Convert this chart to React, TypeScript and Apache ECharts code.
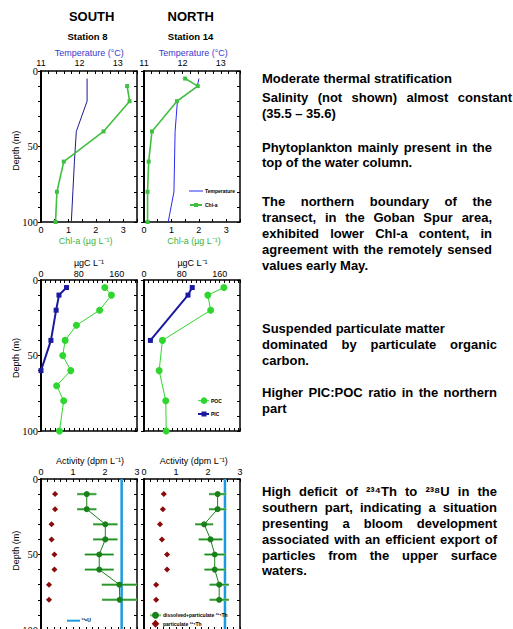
import React, { useEffect, useRef } from 'react';
import * as echarts from 'echarts';

// ---------- DATA ----------
// Top panels: temperature (°C) and Chl-a (µg/L) vs depth (m)
const tempDepthS = [5, 20, 40, 60, 80, 100];
const tempS = [12.2, 12.2, 11.92, 11.87, 11.83, 11.79];
const chlDepthS = [10, 20, 40, 60, 80, 100];
const chlS = [3.14, 3.23, 2.28, 0.83, 0.58, 0.53];
const tempDepthN = [5, 10, 20, 40, 80, 100];
const tempN = [12.43, 12.39, 11.87, 11.81, 11.78, 11.63];
const chlDepthN = [5, 10, 20, 40, 60, 80, 100];
const chlN = [1.5, 1.96, 1.2, 0.29, 0.17, 0.13, 0.13];

// Middle panels: PIC / POC (µgC/L)
const picDepthS = [5, 10, 20, 40, 60];
const picS = [54, 38, 32, 21, 0];
const pocDepthS = [5, 10, 20, 30, 40, 50, 60, 70, 80, 100];
const pocS = [135, 149, 124, 75, 51, 46, 63, 33, 48, 39];
const picDepthN = [5, 10, 40];
const picN = [102, 93, 13.5];
const pocDepthN = [5, 10, 20, 40, 60, 80, 100];
const pocN = [169, 135, 141, 39, 32, 46, 47];

// Bottom panels: Th activity (dpm/L)
const thDepth = [10, 20, 30, 40, 50, 60, 70, 80];
const thTotS = [1.43, 1.43, 2.01, 2.01, 1.82, 1.82, 2.45, 2.46];
const thTotErrS = [0.3, 0.3, 0.38, 0.38, 0.45, 0.45, 0.55, 0.55];
const thPartS = [0.44, 0.44, 0.33, 0.33, 0.42, 0.42, 0.25, 0.25];
const thTotN = [2.3, 2.3, 1.88, 2.08, 2.21, 2.21, 2.35, 2.35];
const thTotErrN = [0.27, 0.27, 0.28, 0.37, 0.32, 0.32, 0.3, 0.3];
const thPartN = [0.62, 0.59, 0.5, 0.56, 0.72, 0.72, 0.38, 0.38];
const thPartErr = [0.07, 0.07, 0.07, 0.07, 0.07, 0.07, 0.07, 0.07];
const uDepth = [0, 100];
const u238S = [2.52, 2.52];
const u238N = [2.53, 2.53];

// Tick labels
const depthTicks = [0, 50, 100];
const tempTicks = [11, 12, 13];
const chlTicks = [0, 1, 2, 3];
const carbonTicks = [0, 80, 160];
const activityTicks = [0, 1, 2, 3];

// Notes text (right side)
const noteLines = [
  'Moderate thermal stratification',
  'Salinity (not shown) almost constant',
  '(35.5 \u2013 35.6)',
  'Phytoplankton mainly present in the',
  'top of the water column.',
  'The northern boundary of the',
  'transect, in the Goban Spur area,',
  'exhibited lower Chl-a content, in',
  'agreement with the remotely sensed',
  'values early May.',
  'Suspended particulate matter',
  'dominated by particulate organic',
  'carbon.',
  'Higher PIC:POC ratio in the northern',
  'part',
  'High deficit of \u00b2\u00b3\u2074Th to \u00b2\u00b3\u2078U in the',
  'southern part, indicating a situation',
  'presenting a bloom development',
  'associated with an efficient export of',
  'particles from the upper surface',
  'waters.',
];

// ---------- LAYOUT ----------
const noteY = [78.5, 97.5, 113.5, 147.5, 162, 201.5, 217.5, 233, 249.5, 265, 328.5, 344.5, 360.5, 392, 408.5, 491.5, 507.5, 523.5, 539.5, 555, 570.5];
const noteRight = [0, 512, 0, 492, 0, 492, 492, 492, 492, 0, 0, 497, 0, 497, 0, 497, 497, 497, 497, 497, 0];
const NOTE_X = 262;
const FONT = 'Liberation Sans, Arial, Helvetica, sans-serif';
const SERIF = 'Liberation Serif, Times New Roman, serif';

const grids = [
  { left: 41, top: 71, width: 96, height: 151 },
  { left: 144, top: 71, width: 96, height: 151 },
  { left: 41, top: 280, width: 96, height: 151 },
  { left: 144, top: 280, width: 96, height: 151 },
  { left: 41, top: 479, width: 96, height: 151 },
  { left: 144, top: 479, width: 96, height: 151 },
];

const zip = (xs: number[], ys: number[]) => xs.map((x, i) => [x, ys[i]]);

function fmt(list: number[]) {
  return (v: number) => {
    const f = list.find((l) => Math.abs(l - v) < 1e-6);
    return f === undefined ? '' : String(f);
  };
}

function xAxis(g: number, pos: 'top' | 'bottom', min: number, max: number, interval: number, labels: number[], showLabel: boolean, margin: number) {
  return {
    type: 'value', gridIndex: g, position: pos, min, max, interval,
    axisLine: { show: true, onZero: false, lineStyle: { color: '#000', width: 1.5 } },
    axisTick: { show: true, inside: true, length: 3, lineStyle: { color: '#000', width: 1 } },
    minorTick: { show: false },
    splitLine: { show: false },
    axisLabel: { show: showLabel, margin, fontSize: 9, color: '#000', fontFamily: FONT, formatter: fmt(labels) },
  };
}

function yAxes(g: number, showLabel: boolean) {
  return [
    {
      type: 'value', gridIndex: g, position: 'left', inverse: true, min: 0, max: 100, interval: 10,
      axisLine: { show: true, onZero: false, lineStyle: { color: '#000', width: 2 } },
      axisTick: { show: true, inside: false, length: 3, lineStyle: { color: '#000' } },
      splitLine: { show: false },
      axisLabel: { show: showLabel, margin: 3, fontSize: 10.5, color: '#000', fontFamily: SERIF, formatter: fmt(depthTicks) },
    },
    {
      type: 'value', gridIndex: g, position: 'right', inverse: true, min: 0, max: 100, interval: 10,
      axisLine: { show: true, onZero: false, lineStyle: { color: '#000', width: 1.5 } },
      axisTick: { show: true, inside: true, length: 3, lineStyle: { color: '#000' } },
      splitLine: { show: false },
      axisLabel: { show: false },
    },
  ];
}

function lineS(g: number, xTop: boolean, xs: number[], ys: number[], color: string, width: number, symbol: string, size: number, z = 3) {
  return {
    type: 'line', xAxisIndex: xTop ? 2 * g : 2 * g + 1, yAxisIndex: 2 * g,
    data: zip(xs, ys), symbol, symbolSize: size, showSymbol: symbol !== 'none',
    lineStyle: width > 0 ? { color, width } : { width: 0, opacity: 0 },
    itemStyle: { color, borderWidth: 0 }, z, clip: true,
  };
}

function errS(g: number, xs: number[], ys: number[], es: number[], color: string, width: number, z = 2) {
  return {
    type: 'custom', xAxisIndex: 2 * g, yAxisIndex: 2 * g, coordinateSystem: 'cartesian2d',
    data: xs.map((x, i) => [x, ys[i], es[i]]), encode: { x: 0, y: 1 }, clip: true, z,
    renderItem: (_p: any, api: any) => {
      const x = api.value(0), y = api.value(1), e = api.value(2);
      const a = api.coord([x - e, y]);
      const b = api.coord([x + e, y]);
      return { type: 'line', shape: { x1: a[0], y1: a[1], x2: b[0], y2: b[1] }, style: { stroke: color, lineWidth: width } };
    },
  };
}

let measureCtx: CanvasRenderingContext2D | null = null;
function measure(t: string, font: string) {
  if (!measureCtx) measureCtx = document.createElement('canvas').getContext('2d');
  measureCtx!.font = font;
  return measureCtx!.measureText(t).width;
}

function noteGraphics() {
  const out: any[] = [];
  const cssFont = 'bold 13px "Liberation Sans", Arial, sans-serif';
  noteLines.forEach((line, li) => {
    const y = noteY[li];
    const right = noteRight[li];
    const base = { fontSize: 13, fontWeight: 'bold', fontFamily: FONT, fill: '#000', verticalAlign: 'middle', align: 'left' };
    if (!right) {
      out.push({ type: 'text', x: NOTE_X, y, style: { ...base, text: line } });
      return;
    }
    const words = line.split(' ');
    const ws = words.map((w) => measure(w, cssFont));
    const total = ws.reduce((a, b) => a + b, 0);
    const gap = (right - NOTE_X - total) / (words.length - 1);
    let x = NOTE_X;
    words.forEach((w, i) => {
      out.push({ type: 'text', x, y, style: { ...base, text: w } });
      x += ws[i] + gap;
    });
  });
  return out;
}

function txt(x: number, y: number, text: string, size: number, color = '#000', weight = 'normal', extra: any = {}) {
  return { type: 'text', x, y, ...extra, style: { text, fontSize: size, fontWeight: weight, fontFamily: FONT, fill: color, align: 'center', verticalAlign: 'middle' } };
}
function ltxt(x: number, y: number, text: string, size: number, weight = 'bold') {
  return { type: 'text', x, y, z: 10, style: { text, fontSize: size, fontWeight: weight, fontFamily: FONT, fill: '#000', align: 'left', verticalAlign: 'middle' } };
}

const BLUE_T = '#3a3acc';
const GREEN_T = '#3cb43c';

export default function App() {
  const ref = useRef<HTMLDivElement>(null);
  useEffect(() => {
    if (!ref.current) return;
    const chart = echarts.init(ref.current, undefined, { renderer: 'svg' });

    const xAxes: any[] = [
      xAxis(0, 'top', 11, 13.5, 0.2, tempTicks, true, 4), xAxis(0, 'bottom', 0, 3.5, 0.5, chlTicks, true, 3.5),
      xAxis(1, 'top', 11, 13.5, 0.2, tempTicks, true, 4), xAxis(1, 'bottom', 0, 3.5, 0.5, chlTicks, true, 3.5),
      xAxis(2, 'top', 0, 203, 10, carbonTicks, true, 2), xAxis(2, 'bottom', 0, 203, 10, carbonTicks, false, 2),
      xAxis(3, 'top', 0, 203, 10, carbonTicks, true, 2), xAxis(3, 'bottom', 0, 203, 10, carbonTicks, false, 2),
      xAxis(4, 'top', 0, 3, 0.2, activityTicks, true, 2.5), xAxis(4, 'bottom', 0, 3, 0.2, activityTicks, false, 2),
      xAxis(5, 'top', 0, 3, 0.2, activityTicks, true, 2.5), xAxis(5, 'bottom', 0, 3, 0.2, activityTicks, false, 2),
    ];
    const yAx: any[] = [
      ...yAxes(0, true), ...yAxes(1, false), ...yAxes(2, true), ...yAxes(3, false), ...yAxes(4, true), ...yAxes(5, false),
    ];

    const series: any[] = [
      lineS(0, true, tempS, tempDepthS, '#1c1c8c', 1, 'none', 0),
      lineS(0, false, chlS, chlDepthS, '#40c040', 1.6, 'rect', 4),
      lineS(1, true, tempN, tempDepthN, '#2a2aee', 1, 'none', 0),
      lineS(1, false, chlN, chlDepthN, '#40c040', 1.6, 'rect', 4),
      lineS(2, true, picS, picDepthS, '#1a1aa0', 2, 'rect', 5),
      lineS(2, true, pocS, pocDepthS, '#2fd62f', 1, 'circle', 7),
      lineS(3, true, picN, picDepthN, '#1a1aa0', 2, 'rect', 5),
      lineS(3, true, pocN, pocDepthN, '#2fd62f', 1, 'circle', 7),
      // bottom south
      lineS(4, true, u238S, uDepth, '#1a9be0', 2.5, 'none', 0, 1),
      errS(4, thTotS, thDepth, thTotErrS, '#7cc47c', 2.5, 2),
      errS(4, thTotS, thDepth, thTotErrS, '#1a8a1a', 1, 2),
      lineS(4, true, thTotS, thDepth, '#1a801a', 1, 'circle', 6, 4),
      errS(4, thPartS, thDepth, thPartErr, '#8b0a0a', 1, 2),
      lineS(4, true, thPartS, thDepth, '#8b0a0a', 0, 'diamond', 6, 4),
      // bottom north
      lineS(5, true, u238N, uDepth, '#1a9be0', 2.5, 'none', 0, 1),
      errS(5, thTotN, thDepth, thTotErrN, '#7cc47c', 2.5, 2),
      errS(5, thTotN, thDepth, thTotErrN, '#1a8a1a', 1, 2),
      lineS(5, true, thTotN, thDepth, '#1a801a', 1, 'circle', 6, 4),
      errS(5, thPartN, thDepth, thPartErr, '#8b0a0a', 1, 2),
      lineS(5, true, thPartN, thDepth, '#8b0a0a', 0, 'diamond', 6, 4),
    ];

    const graphic: any[] = [
      txt(91.7, 16, 'SOUTH', 13, '#000', 'bold'),
      txt(190.7, 16, 'NORTH', 13, '#000', 'bold'),
      txt(87.5, 36, 'Station 8', 9.5, '#000', 'bold'),
      txt(190.5, 36, 'Station 14', 9.5, '#000', 'bold'),
      txt(89.3, 52.7, 'Temperature (\u00b0C)', 9, BLUE_T),
      txt(193.3, 52.7, 'Temperature (\u00b0C)', 9, BLUE_T),
      txt(85.7, 240.7, 'Chl-a (\u00b5g L\u207b\u00b9)', 9, GREEN_T),
      txt(194, 240.7, 'Chl-a (\u00b5g L\u207b\u00b9)', 9, GREEN_T),
      txt(89, 263.3, '\u00b5gC L\u207b\u00b9', 9),
      txt(192.5, 263.3, '\u00b5gC L\u207b\u00b9', 9),
      txt(90, 461.3, 'Activity (dpm L\u207b\u00b9)', 9),
      txt(193.7, 461.3, 'Activity (dpm L\u207b\u00b9)', 9),
      txt(15.7, 150.7, 'Depth (m)', 9, '#000', 'normal', { rotation: Math.PI / 2 }),
      txt(15.7, 358, 'Depth (m)', 9, '#000', 'normal', { rotation: Math.PI / 2 }),
      txt(15.7, 550.7, 'Depth (m)', 9, '#000', 'normal', { rotation: Math.PI / 2 }),
      // legend top-north
      { type: 'line', shape: { x1: 189, y1: 191, x2: 203, y2: 191 }, style: { stroke: '#2a2aee', lineWidth: 1 } },
      ltxt(205, 191, 'Temperature', 5),
      { type: 'line', shape: { x1: 190, y1: 205, x2: 202, y2: 205 }, style: { stroke: '#40c040', lineWidth: 2 } },
      { type: 'rect', shape: { x: 194, y: 203, width: 4, height: 4 }, style: { fill: '#40c040' } },
      ltxt(205, 205, 'Chl-a', 5),
      // legend middle-north
      { type: 'line', shape: { x1: 198, y1: 400.7, x2: 209, y2: 400.7 }, style: { stroke: '#2fd62f', lineWidth: 1 } },
      { type: 'circle', shape: { cx: 204, cy: 400.7, r: 3.3 }, style: { fill: '#2fd62f' } },
      ltxt(211, 400.7, 'POC', 5),
      { type: 'line', shape: { x1: 198, y1: 414, x2: 209, y2: 414 }, style: { stroke: '#1a1aa0', lineWidth: 2 } },
      { type: 'rect', shape: { x: 201.5, y: 411.5, width: 5, height: 5 }, style: { fill: '#1a1aa0' } },
      ltxt(211, 414, 'PIC', 5),
      // legend bottom-south
      { type: 'line', shape: { x1: 67, y1: 620.7, x2: 80, y2: 620.7 }, style: { stroke: '#1a9be0', lineWidth: 2 } },
      ltxt(81.5, 619.5, '\u00b2\u00b3\u2078U', 5),
      // legend bottom-north
      { type: 'line', shape: { x1: 150, y1: 615.3, x2: 161, y2: 615.3 }, style: { stroke: '#7cc47c', lineWidth: 2 } },
      { type: 'circle', shape: { cx: 155.5, cy: 615.3, r: 3.5 }, style: { fill: '#1a801a' } },
      ltxt(163, 615.3, 'dissolved+particulate \u00b2\u00b3\u2074Th', 5),
      { type: 'polygon', shape: { points: [[155.5, 619.7], [159.3, 623.7], [155.5, 627.7], [151.7, 623.7]] }, style: { fill: '#8b0a0a' } },
      ltxt(163, 623.7, 'particulate \u00b2\u00b3\u2074Th', 5),
      ...noteGraphics(),
    ];

    chart.setOption({
      animation: false,
      backgroundColor: '#fff',
      grid: grids.map((g) => ({ ...g, containLabel: false, outerBoundsMode: 'none' })),
      xAxis: xAxes,
      yAxis: yAx,
      series,
      graphic,
    });
    return () => chart.dispose();
  }, []);
  return <div ref={ref} style={{ position: 'absolute', left: 0, top: 0, width: 513, height: 629, background: '#fff' }} />;
}
